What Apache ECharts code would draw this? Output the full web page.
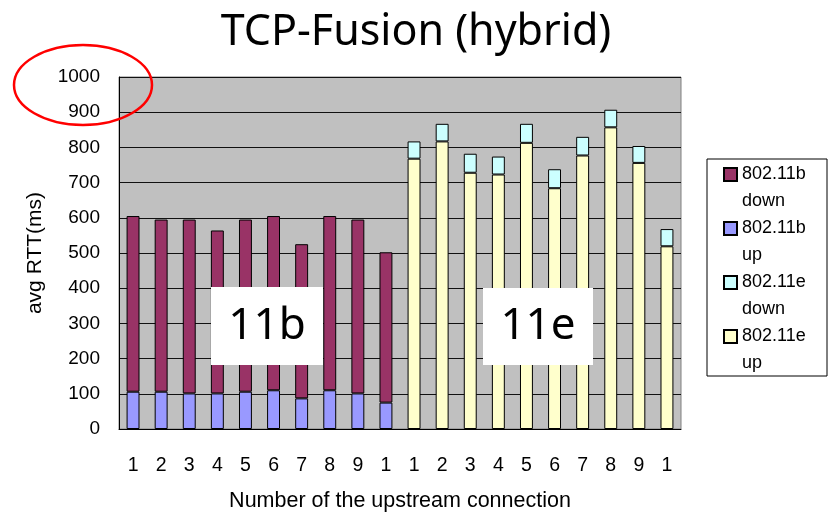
<!DOCTYPE html>
<html>
<head>
<meta charset="utf-8">
<script src="https://cdn.jsdelivr.net/npm/echarts@6/dist/echarts.min.js"></script>
<style>html,body{margin:0;padding:0;background:#fff}#c{width:833px;height:513px}</style>
</head>
<body>
<div id="c"></div>
<script>
var categories = ['1','2','3','4','5','6','7','8','9','1','1','2','3','4','5','6','7','8','9','1'];
var b_up   = [106,106,101,101,106,110, 87,110,101, 75, null,null,null,null,null,null,null,null,null,null];
var b_down = [499,489,494,463,489,495,438,495,494,427, null,null,null,null,null,null,null,null,null,null];
var e_up   = [null,null,null,null,null,null,null,null,null,null, 768,817,728,723,813,684,777,857,756,519];
var e_down = [null,null,null,null,null,null,null,null,null,null, 49,50,54,51,54,54,53,50,48,49];
var yTicks = {min:0, max:1000, interval:100};
var seriesNames = ['802.11b down','802.11b up','802.11e down','802.11e up'];

var chart = echarts.init(document.getElementById('c'), null, {renderer:'canvas'});
var font = 'Liberation Sans, Arial, sans-serif';
var LH = 27;
function bar(name, data, stack, color){
  return {name:name, type:'bar', stack:stack, data:data, barWidth:'46%', barGap:'-100%',
    itemStyle:{color:color, borderColor:'#000', borderWidth:1}, emphasis:{disabled:true}};
}
chart.setOption({
  animation:false,
  title:{text:'TCP-Fusion (hybrid)', left:411, top:6, textAlign:'center',
    textStyle:{fontFamily:'Noto Sans, sans-serif', fontSize:43, fontWeight:'normal', color:'#000'}},
  grid:{left:119, right:152, top:77, bottom:84, containLabel:false, outerBoundsMode:'none',
    show:true, backgroundColor:'#c0c0c0', borderColor:'#808080', borderWidth:1},
  legend:{orient:'vertical', left:723, top:134, padding:0, itemGap:-LH, itemWidth:13, itemHeight:13,
    data:seriesNames, icon:'rect', selectedMode:false,
    formatter:function(n){return ' \n' + n.replace(' ','\n');},
    textStyle:{fontFamily:font, fontSize:18, color:'#000', lineHeight:LH}},
  xAxis:{type:'category', data:categories,
    axisLine:{lineStyle:{color:'#000', width:1}},
    axisTick:{inside:true, length:6, interval:0, lineStyle:{color:'#333', width:1.5}},
    axisLabel:{interval:0, margin:27, fontFamily:font, fontSize:19.5, color:'#000'},
    name:'Number of the upstream connection', nameLocation:'middle', nameGap:61,
    nameTextStyle:{fontFamily:font, fontSize:21.5, color:'#000'}},
  yAxis:{type:'value', min:yTicks.min, max:yTicks.max, interval:yTicks.interval,
    axisLine:{show:true, lineStyle:{color:'#000', width:1}},
    axisTick:{show:false},
    splitLine:{lineStyle:{color:'#111', width:1}},
    axisLabel:{margin:19, fontFamily:font, fontSize:19, color:'#000', formatter:function(v){return String(v);}},
    name:'avg RTT(ms)', nameLocation:'middle', nameGap:73, nameRotate:90,
    nameTextStyle:{fontFamily:font, fontSize:21, color:'#000'}},
  series:[
    bar('802.11b up', b_up, 'b', '#9999ff'),
    bar('802.11b down', b_down, 'b', '#993366'),
    bar('802.11e up', e_up, 'e', '#ffffcc'),
    bar('802.11e down', e_down, 'e', '#ccffff')
  ],
  graphic:[
    {type:'rect', shape:{x:707, y:159, width:120, height:217}, style:{fill:'#fff', stroke:'#000', lineWidth:1}, z:-1},
    {type:'rect', shape:{x:211, y:287, width:112, height:78}, style:{fill:'#fff'}, z:50},
    {type:'text', x:267, y:326, style:{text:'11b', fontSize:44, fontFamily:'Noto Sans, sans-serif', fill:'#000', align:'center', verticalAlign:'middle'}, z:51},
    {type:'rect', shape:{x:483, y:288, width:110, height:77}, style:{fill:'#fff'}, z:50},
    {type:'text', x:538, y:326, style:{text:'11e', fontSize:44, fontFamily:'Noto Sans, sans-serif', fill:'#000', align:'center', verticalAlign:'middle'}, z:51},
    {type:'ellipse', shape:{cx:83, cy:85, rx:69, ry:40}, style:{fill:'none', stroke:'#ff0000', lineWidth:2.5}, z:60}
  ]
});
</script>
</body>
</html>
